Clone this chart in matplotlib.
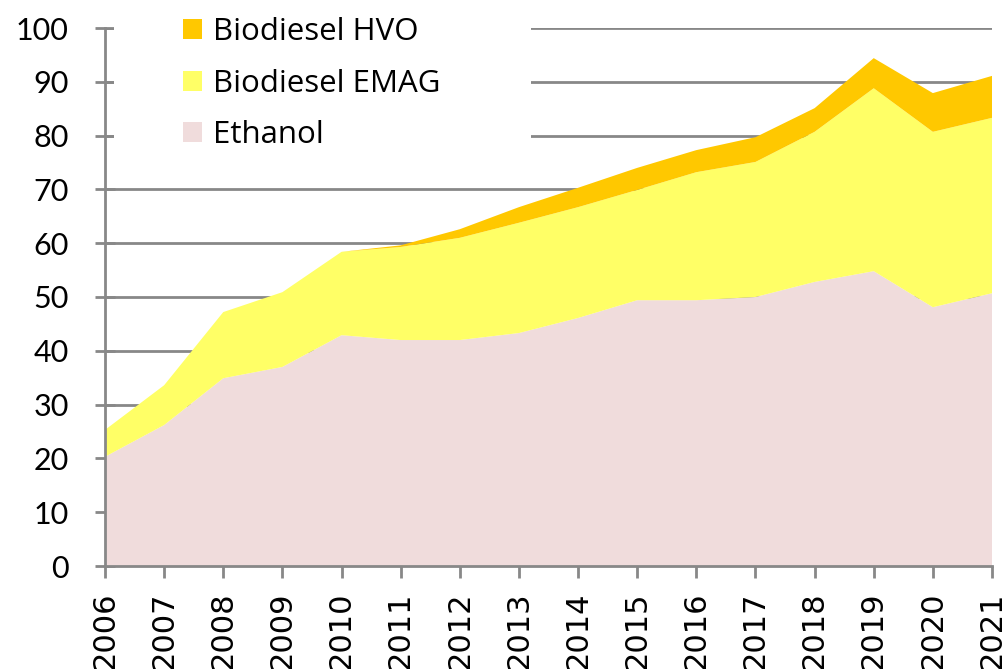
import numpy as np
import matplotlib
matplotlib.use('Agg')
import matplotlib.pyplot as plt
from matplotlib.patches import Rectangle

years = list(range(2006, 2022))
ethanol = [20.3, 26.2, 34.9, 37.0, 42.9, 42.0, 42.0, 43.3, 46.1, 49.4, 49.4, 50.0, 52.8, 54.8, 48.1, 50.7]
emag_top = [25.3, 33.6, 47.2, 50.9, 58.4, 59.3, 61.0, 63.8, 66.7, 69.9, 73.2, 75.1, 80.7, 88.8, 80.7, 83.3]
hvo_top = [25.3, 33.6, 47.2, 50.9, 58.4, 59.6, 62.6, 66.7, 70.3, 74.0, 77.3, 79.7, 85.1, 94.4, 87.9, 91.1]

emag = np.array(emag_top) - np.array(ethanol)
hvo = np.array(hvo_top) - np.array(emag_top)

labels = ['Ethanol', 'Biodiesel EMAG', 'Biodiesel HVO']
colors = ['#f0dcdc', '#ffff66', '#ffc800']

grey = '#888888'

fig = plt.figure(figsize=(10.08, 6.69), dpi=100)
ax = fig.add_axes([105/1008, 1-566/669, (992-105)/1008, (566-28)/669])

ax.stackplot(years, ethanol, emag, hvo, colors=colors, labels=labels, linewidth=0, zorder=2)

ax.set_xlim(2006, 2021)
ax.set_ylim(0, 100)
ax.set_yticks(range(0, 101, 10))
ax.set_xticks(years)
ax.set_xticklabels([str(y) for y in years], rotation=90, fontsize=22, family='DejaVu Sans')
for t in ax.get_yticklabels():
    t.set_family(['Lato', 'DejaVu Sans'])
    t.set_fontsize(22)

ax.grid(axis='y', color=grey, linewidth=2.0)
ax.set_axisbelow(True)
for s in ['top', 'right']:
    ax.spines[s].set_visible(False)
for s in ['left', 'bottom']:
    ax.spines[s].set_color(grey)
    ax.spines[s].set_linewidth(2.0)
    ax.spines[s].set_zorder(3)
ax.tick_params(axis='y', direction='inout', length=14, width=2.0, color=grey, pad=19)
ax.tick_params(axis='x', direction='out', length=8.6, width=2.0, color=grey, pad=10)

# white box behind the legend hides the upper-left gridlines
ax.add_patch(Rectangle((0.01, 0.745), 0.47, 0.3, transform=ax.transAxes,
                       facecolor='white', edgecolor='none', zorder=1, clip_on=False))

h, l = ax.get_legend_handles_labels()
leg = ax.legend(h[::-1], l[::-1], loc='upper left', bbox_to_anchor=(0.088, 1.02),
                prop={'family': ['Open Sans', 'DejaVu Sans'], 'size': 22.5},
                frameon=False, handlelength=0.6, handleheight=0.6,
                handletextpad=0.35, labelspacing=0.69, borderpad=0, borderaxespad=0)
leg.set_zorder(5)

fig.savefig('out.png', dpi=100)
